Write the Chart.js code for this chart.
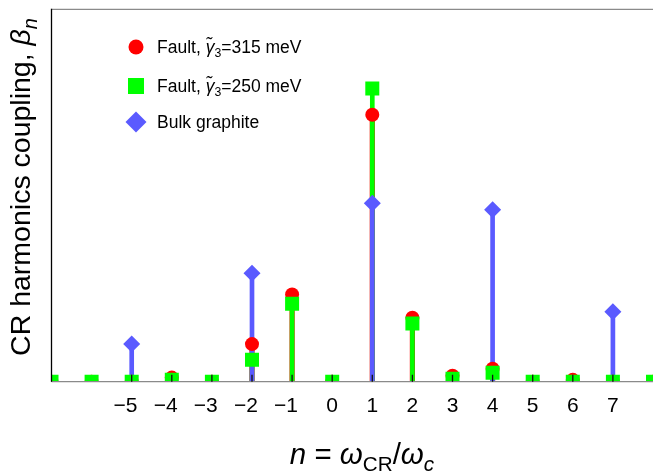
<!DOCTYPE html>
<html><head><meta charset="utf-8">
<script src="https://cdn.jsdelivr.net/npm/chart.js@4.4.1/dist/chart.umd.min.js"></script>
<style>html,body{margin:0;padding:0;background:#fff}canvas{display:block}</style>
</head><body>
<canvas id="c" width="653" height="472"></canvas>
<script>
// ---- data ----
const harmonics = [-7,-6,-5,-4,-3,-2,-1,0,1,2,3,4,5,6,7,8];
const fault315 = [0,0,0,0.011,0,0.101,0.234,0,0.717,0.172,0.016,0.035,0,0.005,0,0];
const fault250 = [0,0,0,0.005,0,0.059,0.209,0,0.787,0.156,0.008,0.024,0,0,0,0];
const bulkN = [-5,-2,1,4,7];
const bulk = [0.101,0.291,0.479,0.462,0.188];
const tickValues = [-5,-4,-3,-2,-1,0,1,2,3,4,5,6,7];
const tickLabels = ['\u22125','\u22124','\u22123','\u22122','\u22121','0','1','2','3','4','5','6','7'];

const RED = '#ff0000', GREEN = '#00ff00', BLUE = '#5a5aff';
const FONT = '"Liberation Sans", Arial, Helvetica, sans-serif';

const pts = (xs, ys) => xs.map((x, i) => ({x: x, y: ys[i]}));

function richWidth(ctx, segs, size) {
  let w = 0;
  for (const s of segs) {
    const fs = s.sub ? size * 0.7 : size;
    ctx.font = (s.it ? 'italic ' : '') + fs + 'px ' + FONT;
    w += ctx.measureText(s.t).width;
  }
  return w;
}
function drawRich(ctx, segs, x, y, size, align) {
  const w = richWidth(ctx, segs, size);
  let cx = align === 'center' ? x - w / 2 : x;
  ctx.textAlign = 'left';
  ctx.textBaseline = 'alphabetic';
  for (const s of segs) {
    const fs = s.sub ? size * 0.7 : size;
    ctx.font = (s.it ? 'italic ' : '') + fs + 'px ' + FONT;
    ctx.fillText(s.t, cx, y + (s.sub ? size * 0.24 : 0));
    cx += ctx.measureText(s.t).width;
  }
}

const decor = {
  id: 'decor',
  afterDatasetsDraw(chart) {
    const ctx = chart.ctx;
    const a = chart.chartArea;
    const xs = chart.scales.x;
    ctx.save();
    // frame lines
    ctx.strokeStyle = '#8a8a8a';
    ctx.lineWidth = 1.2;
    ctx.beginPath();
    ctx.moveTo(a.left, a.top); ctx.lineTo(chart.width, a.top);
    ctx.moveTo(a.left, a.bottom); ctx.lineTo(chart.width, a.bottom);
    ctx.stroke();
    ctx.strokeStyle = '#000';
    ctx.lineWidth = 1.3;
    ctx.beginPath();
    ctx.moveTo(a.left, a.top - 0.6); ctx.lineTo(a.left, a.bottom);
    ctx.stroke();
    // ticks (inward)
    ctx.strokeStyle = '#111';
    ctx.lineWidth = 1.3;
    ctx.beginPath();
    for (const v of tickValues) {
      const px = xs.getPixelForValue(v);
      ctx.moveTo(px, a.bottom); ctx.lineTo(px, a.bottom - 7);
    }
    ctx.stroke();
    // tick labels: digit centered on tick
    ctx.fillStyle = '#000';
    ctx.font = '21px ' + FONT;
    ctx.textAlign = 'right';
    ctx.textBaseline = 'alphabetic';
    tickValues.forEach((v, i) => {
      const px = xs.getPixelForValue(v);
      const lab = tickLabels[i];
      const dw = ctx.measureText(lab.slice(-1)).width;
      ctx.fillText(lab, px + dw / 2, 412);
    });
    // x title
    drawRich(ctx, [
      {t: 'n', it: true}, {t: ' = '}, {t: '\u03c9', it: true}, {t: 'CR', sub: true},
      {t: '/'}, {t: '\u03c9', it: true}, {t: 'c', it: true, sub: true}
    ], 362, 464, 29.5, 'center');
    // y title
    ctx.save();
    ctx.translate(30, 187);
    ctx.rotate(-Math.PI / 2);
    drawRich(ctx, [
      {t: 'CR harmonics coupling, '}, {t: '\u03b2', it: true}, {t: 'n', it: true, sub: true}
    ], 0, 0, 28.5, 'center');
    ctx.restore();
    // legend
    const lx = 136, tx = 157;
    ctx.fillStyle = RED;
    ctx.beginPath(); ctx.arc(lx, 47, 7.5, 0, Math.PI * 2); ctx.fill();
    ctx.fillStyle = GREEN;
    ctx.fillRect(lx - 8, 86 - 8, 16, 16);
    ctx.fillStyle = BLUE;
    ctx.beginPath();
    ctx.moveTo(lx - 10.5, 122); ctx.lineTo(lx, 111.5); ctx.lineTo(lx + 10.5, 122); ctx.lineTo(lx, 132.5);
    ctx.closePath(); ctx.fill();
    ctx.fillStyle = '#000';
    drawRich(ctx, [{t: 'Fault, '}, {t: '\u03b3\u0303', it: true}, {t: '3', sub: true}, {t: '=315 meV'}], tx, 53, 17.5, 'left');
    drawRich(ctx, [{t: 'Fault, '}, {t: '\u03b3\u0303', it: true}, {t: '3', sub: true}, {t: '=250 meV'}], tx, 92, 17.5, 'left');
    drawRich(ctx, [{t: 'Bulk graphite'}], tx, 128, 17.5, 'left');
    ctx.restore();
  }
};

new Chart(document.getElementById('c'), {
  type: 'bar',
  data: {
    datasets: [
      {type: 'line', label: 'Bulk graphite', data: pts(bulkN, bulk), showLine: false,
       pointStyle: 'rectRot', pointRadius: 8.5, pointBackgroundColor: BLUE, pointBorderWidth: 0, order: 1, clip: 0},
      {type: 'line', label: 'Fault 250', data: pts(harmonics, fault250), showLine: false,
       pointStyle: 'rect', pointRadius: 9.9, pointBackgroundColor: GREEN, pointBorderWidth: 0, order: 2, clip: 0},
      {type: 'line', label: 'Fault 315', data: pts(harmonics, fault315), showLine: false,
       pointStyle: 'circle', pointRadius: 7, pointBackgroundColor: RED, pointBorderWidth: 0, order: 3, clip: 0},
      {type: 'bar', data: pts(bulkN, bulk), backgroundColor: BLUE, barThickness: 4, grouped: false, order: 4, clip: 0},
      {type: 'bar', data: pts(harmonics, fault250), backgroundColor: GREEN, barThickness: 4, grouped: false, order: 5, clip: 0},
      {type: 'bar', data: pts(harmonics, fault315), backgroundColor: RED, barThickness: 4.5, grouped: false, order: 6, clip: 0}
    ]
  },
  options: {
    responsive: false,
    animation: false,
    devicePixelRatio: 1,
    events: [],
    layout: {autoPadding: false, padding: {left: 51.5, right: 0, top: 9.3, bottom: 90.3}},
    scales: {
      x: {type: 'linear', min: -7, max: 8, offset: false, display: false},
      y: {type: 'linear', min: 0, max: 1, display: false}
    },
    plugins: {legend: {display: false}, tooltip: {enabled: false}}
  },
  plugins: [decor]
});
</script>
</body></html>
